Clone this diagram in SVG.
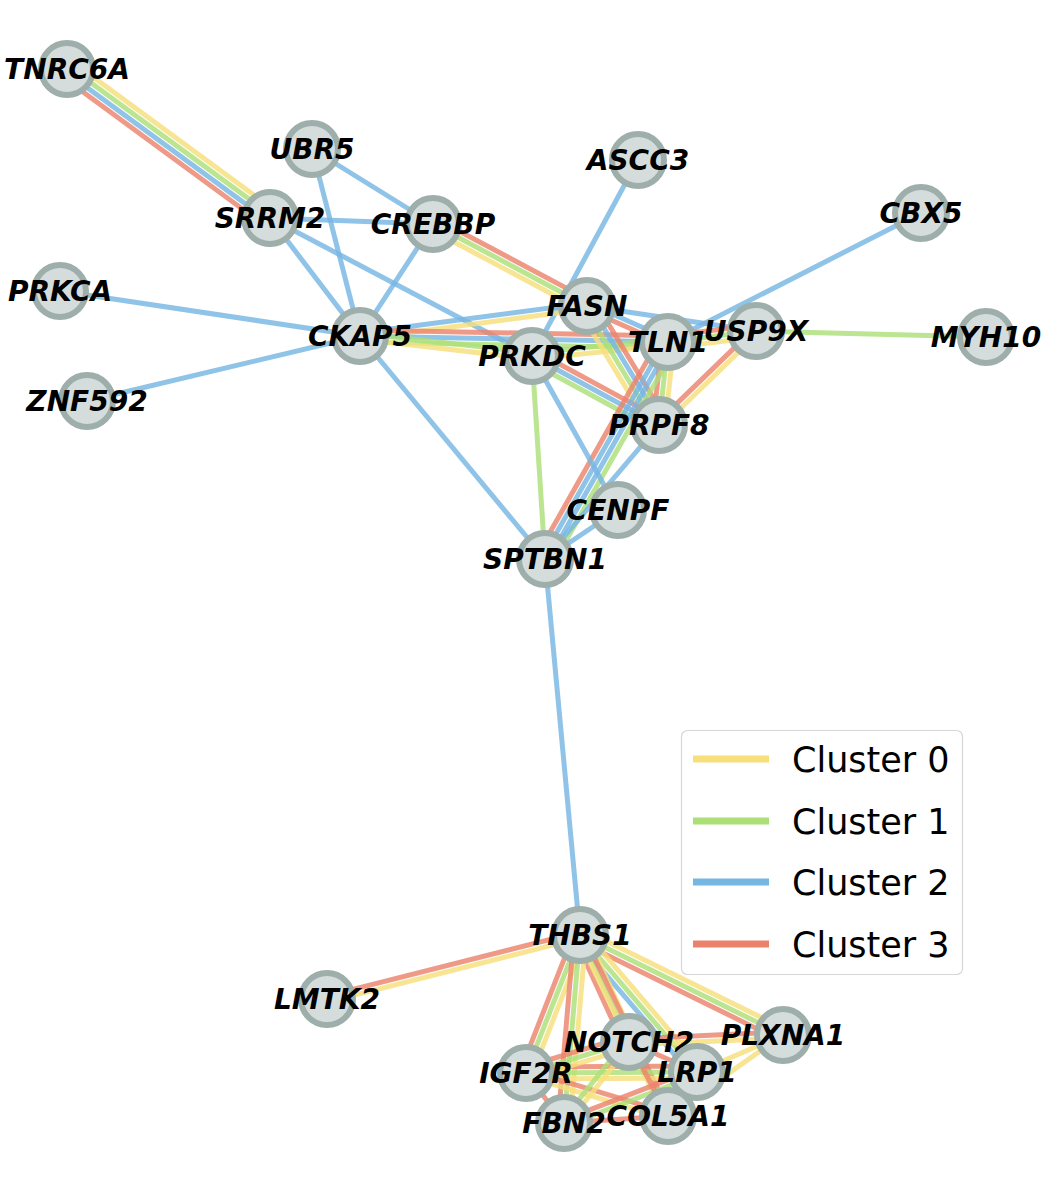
<svg xmlns="http://www.w3.org/2000/svg" width="1041" height="1190" viewBox="0 0 1041 1190">
<style>
line{stroke-width:5;fill:none;stroke-opacity:.82}
.y{stroke:#f7df7c}.g{stroke:#acdf78}.b{stroke:#76b6e2}.r{stroke:#eb826c}
.n circle{fill:#d4dddb;stroke:#9eaeaa;stroke-width:6}
.n text{font-family:"DejaVu Sans",sans-serif;font-weight:bold;font-style:italic;font-size:28px;text-anchor:middle;dominant-baseline:central;fill:#000}
.lg line{stroke-width:7;stroke-opacity:1}
.lg text{font-family:"DejaVu Sans",sans-serif;font-size:35px;fill:#000}
</style>
<rect width="1041" height="1190" fill="#fff"/>
<g id="edges">
<g transform="translate(67 69) rotate(36.3)"><line class="y" x2="251.8" y1="-9" y2="-9"/><line class="g" x2="251.8" y1="-3" y2="-3"/><line class="b" x2="251.8" y1="3" y2="3"/><line class="r" x2="251.8" y1="9" y2="9"/></g>
<line class="b" x1="312" y1="149" x2="433" y2="224"/>
<line class="b" x1="312" y1="149" x2="360" y2="336"/>
<line class="b" x1="270" y1="218" x2="433" y2="224"/>
<line class="b" x1="270" y1="218" x2="360" y2="336"/>
<line class="b" x1="270" y1="218" x2="532" y2="356"/>
<line class="b" x1="433" y1="224" x2="360" y2="336"/>
<g transform="translate(433 224) rotate(28)"><line class="r" x2="174.5" y1="-6" y2="-6"/><line class="g" x2="174.5"/><line class="y" x2="174.5" y1="6" y2="6"/></g>
<line class="b" x1="638" y1="160" x2="532" y2="356"/>
<line class="b" x1="921" y1="213" x2="668" y2="342"/>
<line class="b" x1="60" y1="291" x2="360" y2="336"/>
<line class="b" x1="87" y1="401" x2="360" y2="336"/>
<line class="b" x1="360" y1="336" x2="545" y2="559"/>
<g transform="translate(360 336) rotate(-7.5)"><line class="b" x2="229" y1="-3" y2="-3"/><line class="y" x2="229" y1="3" y2="3"/></g>
<g transform="translate(360 336) rotate(1.1)"><line class="r" x2="308.1" y1="-6" y2="-6"/><line class="b" x2="308.1"/><line class="g" x2="308.1" y1="6" y2="6"/></g>
<g transform="translate(360 336) rotate(6.6)"><line class="g" x2="173.2" y1="-3" y2="-3"/><line class="y" x2="173.2" y1="3" y2="3"/></g>
<g transform="translate(532 356) rotate(-5.9)"><line class="g" x2="136.7" y1="-3" y2="-3"/><line class="y" x2="136.7" y1="3" y2="3"/></g>
<g transform="translate(587 306) rotate(24)"><line class="b" x2="88.6" y1="-3" y2="-3"/><line class="r" x2="88.6" y1="3" y2="3"/></g>
<line class="b" x1="587" y1="306" x2="756" y2="331"/>
<g transform="translate(668 342) rotate(-7.1)"><line class="r" x2="88.7" y1="-6" y2="-6"/><line class="g" x2="88.7"/><line class="y" x2="88.7" y1="6" y2="6"/></g>
<g transform="translate(587 306) rotate(58.8)"><line class="r" x2="139.1" y1="-9" y2="-9"/><line class="b" x2="139.1" y1="-3" y2="-3"/><line class="g" x2="139.1" y1="3" y2="3"/><line class="y" x2="139.1" y1="9" y2="9"/></g>
<g transform="translate(532 356) rotate(28.5)"><line class="r" x2="144.5" y1="-6" y2="-6"/><line class="b" x2="144.5"/><line class="g" x2="144.5" y1="6" y2="6"/></g>
<g transform="translate(668 342) rotate(96.2)"><line class="y" x2="83.5" y1="-6" y2="-6"/><line class="g" x2="83.5"/><line class="r" x2="83.5" y1="6" y2="6"/></g>
<g transform="translate(756 331) rotate(135.9)"><line class="y" x2="135.1" y1="-3" y2="-3"/><line class="r" x2="135.1" y1="3" y2="3"/></g>
<g transform="translate(668 342) rotate(119.5)"><line class="g" x2="249.4" y1="-9" y2="-9"/><line class="b" x2="249.4" y1="-3" y2="-3"/><line class="b" x2="249.4" y1="3" y2="3"/><line class="r" x2="249.4" y1="9" y2="9"/></g>
<line class="b" x1="659" y1="425" x2="545" y2="559"/>
<line class="b" x1="618" y1="510" x2="545" y2="559"/>
<line class="b" x1="532" y1="356" x2="618" y2="510"/>
<line class="g" x1="532" y1="356" x2="545" y2="559"/>
<line class="b" x1="545" y1="559" x2="580" y2="935"/>
<line class="g" x1="756" y1="331" x2="986" y2="337"/>
<g transform="translate(580 935) rotate(165.8)"><line class="y" x2="261" y1="-3" y2="-3"/><line class="r" x2="261" y1="3" y2="3"/></g>
<g transform="translate(580 935) rotate(26.2)"><line class="y" x2="226.3" y1="-6" y2="-6"/><line class="g" x2="226.3"/><line class="r" x2="226.3" y1="6" y2="6"/></g>
<g transform="translate(580 935) rotate(49.5)"><line class="y" x2="180.2" y1="-6" y2="-6"/><line class="g" x2="180.2"/><line class="b" x2="180.2" y1="6" y2="6"/></g>
<g transform="translate(580 935) rotate(65.4)"><line class="y" x2="117.7" y1="-6" y2="-6"/><line class="g" x2="117.7"/><line class="r" x2="117.7" y1="6" y2="6"/></g>
<g transform="translate(580 935) rotate(64.1)"><line class="r" x2="201.3" y1="-3" y2="-3"/><line class="y" x2="201.3" y1="3" y2="3"/></g>
<g transform="translate(580 935) rotate(111.4)"><line class="y" x2="148.2" y1="-6" y2="-6"/><line class="g" x2="148.2"/><line class="r" x2="148.2" y1="6" y2="6"/></g>
<g transform="translate(580 935) rotate(94.9)"><line class="y" x2="188.7" y1="-6" y2="-6"/><line class="g" x2="188.7"/><line class="r" x2="188.7" y1="6" y2="6"/></g>
<g transform="translate(629 1042) rotate(-2.6)"><line class="r" x2="154.2" y1="-3" y2="-3"/><line class="y" x2="154.2" y1="3" y2="3"/></g>
<line class="y" x1="697" y1="1072" x2="783" y2="1035"/>
<line class="y" x1="668" y1="1116" x2="783" y2="1035"/>
<g transform="translate(526 1073) rotate(-0.3)"><line class="r" x2="171" y1="-6" y2="-6"/><line class="g" x2="171"/><line class="y" x2="171" y1="6" y2="6"/></g>
<g transform="translate(526 1073) rotate(-16.8)"><line class="r" x2="107.6" y1="-6" y2="-6"/><line class="g" x2="107.6"/><line class="y" x2="107.6" y1="6" y2="6"/></g>
<g transform="translate(526 1073) rotate(16.8)"><line class="r" x2="148.4" y1="-3" y2="-3"/><line class="y" x2="148.4" y1="3" y2="3"/></g>
<line class="r" x1="526" y1="1073" x2="564" y2="1123"/>
<line class="r" x1="564" y1="1123" x2="668" y2="1116"/>
<g transform="translate(564 1123) rotate(-21)"><line class="r" x2="142.4" y1="-3" y2="-3"/><line class="g" x2="142.4" y1="3" y2="3"/></g>
<g transform="translate(564 1123) rotate(-51.3)"><line class="g" x2="103.9" y1="-3" y2="-3"/><line class="y" x2="103.9" y1="3" y2="3"/></g>
<line class="r" x1="629" y1="1042" x2="668" y2="1116"/>
<line class="r" x1="629" y1="1042" x2="697" y2="1072"/>
</g>
<g id="nodes" class="n">
<g id="TNRC6A"><circle cx="67" cy="69" r="26"/><text x="67" y="69">TNRC6A</text></g>
<g id="UBR5"><circle cx="312" cy="149" r="26"/><text x="312" y="149">UBR5</text></g>
<g id="SRRM2"><circle cx="270" cy="218" r="26"/><text x="270" y="218">SRRM2</text></g>
<g id="CREBBP"><circle cx="433" cy="224" r="26"/><text x="433" y="224">CREBBP</text></g>
<g id="ASCC3"><circle cx="638" cy="160" r="26"/><text x="638" y="160">ASCC3</text></g>
<g id="CBX5"><circle cx="921" cy="213" r="26"/><text x="921" y="213">CBX5</text></g>
<g id="PRKCA"><circle cx="60" cy="291" r="26"/><text x="60" y="291">PRKCA</text></g>
<g id="ZNF592"><circle cx="87" cy="401" r="26"/><text x="87" y="401">ZNF592</text></g>
<g id="CKAP5"><circle cx="360" cy="336" r="26"/><text x="360" y="336">CKAP5</text></g>
<g id="FASN"><circle cx="587" cy="306" r="26"/><text x="587" y="306">FASN</text></g>
<g id="PRKDC"><circle cx="532" cy="356" r="26"/><text x="532" y="356">PRKDC</text></g>
<g id="TLN1"><circle cx="668" cy="342" r="26"/><text x="668" y="342">TLN1</text></g>
<g id="USP9X"><circle cx="756" cy="331" r="26"/><text x="756" y="331">USP9X</text></g>
<g id="MYH10"><circle cx="986" cy="337" r="26"/><text x="986" y="337">MYH10</text></g>
<g id="PRPF8"><circle cx="659" cy="425" r="26"/><text x="659" y="425">PRPF8</text></g>
<g id="CENPF"><circle cx="618" cy="510" r="26"/><text x="618" y="510">CENPF</text></g>
<g id="SPTBN1"><circle cx="545" cy="559" r="26"/><text x="545" y="559">SPTBN1</text></g>
<g id="THBS1"><circle cx="580" cy="935" r="26"/><text x="580" y="935">THBS1</text></g>
<g id="LMTK2"><circle cx="327" cy="999" r="26"/><text x="327" y="999">LMTK2</text></g>
<g id="PLXNA1"><circle cx="783" cy="1035" r="26"/><text x="783" y="1035">PLXNA1</text></g>
<g id="NOTCH2"><circle cx="629" cy="1042" r="26"/><text x="629" y="1042">NOTCH2</text></g>
<g id="IGF2R"><circle cx="526" cy="1073" r="26"/><text x="526" y="1073">IGF2R</text></g>
<g id="LRP1"><circle cx="697" cy="1072" r="26"/><text x="697" y="1072">LRP1</text></g>
<g id="FBN2"><circle cx="564" cy="1123" r="26"/><text x="564" y="1123">FBN2</text></g>
<g id="COL5A1"><circle cx="668" cy="1116" r="26"/><text x="668" y="1116">COL5A1</text></g>
</g>
<g id="legend" class="lg">
<rect x="681.5" y="730.5" width="281" height="244" rx="6" fill="#fff" fill-opacity="0.8" stroke="#d6d6d6" stroke-width="1.2"/>
<line class="y" x1="693" y1="759" x2="769" y2="759"/>
<line class="g" x1="693" y1="821" x2="769" y2="821"/>
<line class="b" x1="693" y1="882" x2="769" y2="882"/>
<line class="r" x1="693" y1="944" x2="769" y2="944"/>
<text x="792" y="772">Cluster 0</text>
<text x="792" y="834">Cluster 1</text>
<text x="792" y="895">Cluster 2</text>
<text x="792" y="957">Cluster 3</text>
</g>
</svg>
